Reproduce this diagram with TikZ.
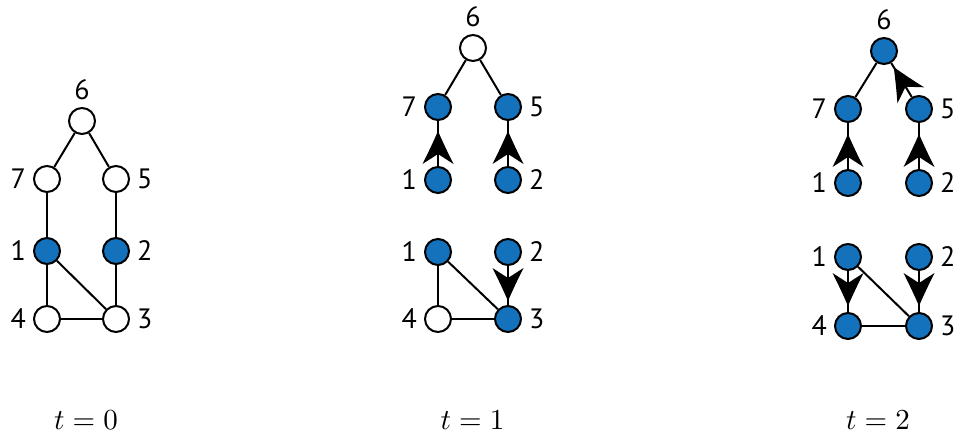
\documentclass[tikz,border=0pt]{standalone}
\usepackage{fontspec}
\newfontfamily\labfont{PT Sans}
\usetikzlibrary{decorations.markings}
\definecolor{nodeblue}{RGB}{20,114,188}
\tikzset{
  vtx/.style={circle,draw=black,line width=2pt,minimum size=26pt,inner sep=0pt,fill=white},
  on/.style={vtx,fill=nodeblue},
  off/.style={vtx,fill=white},
  every label/.style={font=\labfont\fontsize{28}{28}\selectfont,inner sep=0pt},
  label distance=7pt,
  edge/.style={line width=2pt},
  arr/.style={edge,postaction={decorate},decoration={markings,
    mark=at position 35pt with {\fill (0,0) .. controls (-11,4.7) and (-22,10) .. (-33,15.5)
       -- (-23,0) -- (-33,-15.5) .. controls (-22,-10) and (-11,-4.7) .. (0,0) -- cycle;}}},
  tlab/.style={anchor=base,scale=2.9}
}
\begin{document}
\begin{tikzpicture}[x=1pt,y=-1pt]
\useasboundingbox (0,0) rectangle (956,436);
% ---- t = 0
\node[off,label=above:6] (a6) at (82,121) {};
\node[off,label=left:7] (a7) at (47,179) {};
\node[off,label=right:5] (a5) at (116,179) {};
\node[on,label=left:1] (a1) at (47,251) {};
\node[on,label=right:2] (a2) at (116,251) {};
\node[off,label=left:4] (a4) at (47,319) {};
\node[off,label=right:3] (a3) at (116,319) {};
\draw[edge] (a6) -- (a7);
\draw[edge] (a6) -- (a5);
\draw[edge] (a7) -- (a1);
\draw[edge] (a5) -- (a2);
\draw[edge] (a1) -- (a4);
\draw[edge] (a1) -- (a3);
\draw[edge] (a2) -- (a3);
\draw[edge] (a4) -- (a3);
\node[tlab] (ta) at (86,429) {$t=0$};
% ---- t = 1
\node[off,label=above:6] (b6) at (473,48) {};
\node[on,label=left:7] (b7) at (438,107) {};
\node[on,label=right:5] (b5) at (508,107) {};
\node[on,label=left:1] (b1) at (438,180) {};
\node[on,label=right:2] (b2) at (508,180) {};
\node[on,label=left:1] (b1l) at (438,252) {};
\node[on,label=right:2] (b2l) at (508,252) {};
\node[off,label=left:4] (b4) at (438,319) {};
\node[on,label=right:3] (b3) at (508,319) {};
\draw[edge] (b6) -- (b7);
\draw[edge] (b6) -- (b5);
\draw[arr] (b1) -- (b7);
\draw[arr] (b2) -- (b5);
\draw[edge] (b1l) -- (b4);
\draw[edge] (b1l) -- (b3);
\draw[arr] (b2l) -- (b3);
\draw[edge] (b4) -- (b3);
\node[tlab] (tb) at (472.5,429) {$t=1$};
% ---- t = 2
\node[on,label=above:6] (c6) at (884,51) {};
\node[on,label=left:7] (c7) at (848,109) {};
\node[on,label=right:5] (c5) at (919,109) {};
\node[on,label=left:1] (c1) at (848,183) {};
\node[on,label=right:2] (c2) at (919,183) {};
\node[on,label=left:1] (c1l) at (848,257) {};
\node[on,label=right:2] (c2l) at (919,257) {};
\node[on,label=left:4] (c4) at (848,326) {};
\node[on,label=right:3] (c3) at (919,326) {};
\draw[edge] (c6) -- (c7);
\draw[arr] (c5) -- (c6);
\draw[arr] (c1) -- (c7);
\draw[arr] (c2) -- (c5);
\draw[arr] (c1l) -- (c4);
\draw[edge] (c1l) -- (c3);
\draw[arr] (c2l) -- (c3);
\draw[edge] (c4) -- (c3);
\node[tlab] (tc) at (878,429) {$t=2$};
\end{tikzpicture}
\end{document}
